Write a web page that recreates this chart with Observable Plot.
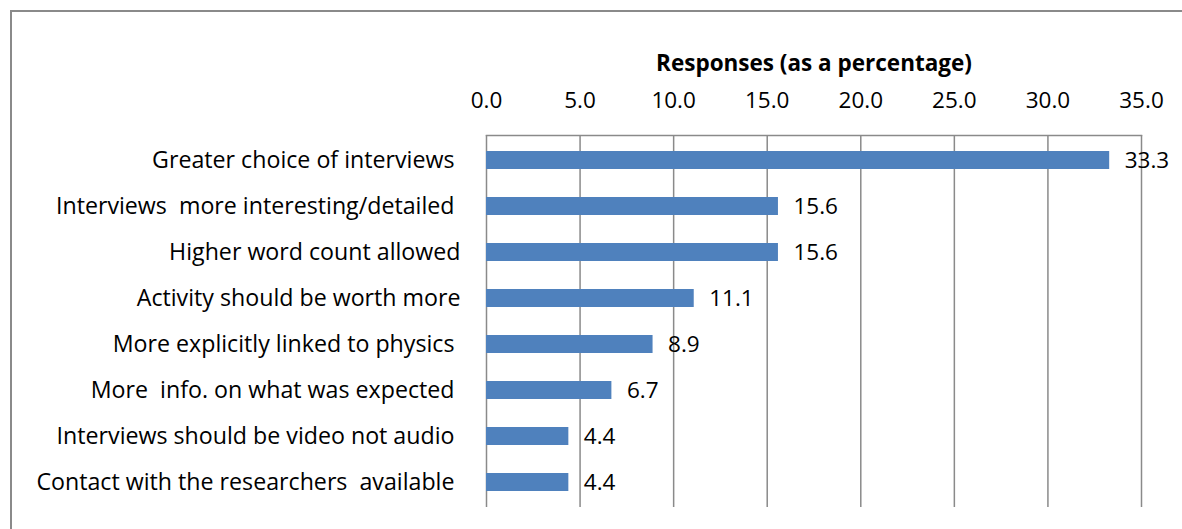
<!DOCTYPE html>
<html>
<head>
<meta charset="utf-8">
<script src="https://cdn.jsdelivr.net/npm/d3@7"></script>
<script src="https://cdn.jsdelivr.net/npm/@observablehq/plot@0.6"></script>
<style>
  body { margin: 0; background: #fff; }
  #wrap { position: relative; width: 1182px; height: 529px; overflow: hidden; }
  #border { position: absolute; left: 10px; top: 10px; width: 1200px; height: 600px; border: 2px solid #8a8a8a; box-sizing: border-box; }
  #chart { position: absolute; left: 0; top: 0; }
  #chart svg text { white-space: pre; }
</style>
</head>
<body>
<div id="wrap">
  <div id="border"></div>
  <div id="chart"></div>
</div>
<script>
const categories = [
  "Greater choice of interviews ",
  "Interviews  more interesting/detailed ",
  "Higher word count allowed",
  "Activity should be worth more",
  "More explicitly linked to physics ",
  "More  info. on what was expected ",
  "Interviews should be video not audio ",
  "Contact with the researchers  available "
];
const values = [33.3, 15.6, 15.6, 11.1, 8.9, 6.7, 4.4, 4.4];
const xTicks = [0, 5, 10, 15, 20, 25, 30, 35];
const axisTitle = "Responses (as a percentage)";

const data = categories.map((c, i) => ({category: c, value: values[i]}));
const font = "'Open Sans', Lato, sans-serif";
const fs = 23.2;

const chart = Plot.plot({
  width: 1182,
  height: 529,
  marginLeft: 486,
  marginRight: 41,
  marginTop: 135,
  marginBottom: 22,
  style: {fontFamily: font, fontSize: fs + "px", color: "#000", background: "transparent"},
  x: {domain: [0, 35], ticks: xTicks},
  y: {domain: categories, padding: 0.61, paddingOuter: 0.305, align: 0.5},
  marks: [
    Plot.gridX(xTicks, {stroke: "#8a8a8a", strokeOpacity: 1, strokeWidth: 1.5}),
    Plot.frame({anchor: "top", stroke: "#8a8a8a", strokeWidth: 1.5}),
    Plot.axisX(xTicks, {anchor: "top", tickSize: 0, tickPadding: 28, tickFormat: d3.format(".1f"),
      label: null, fontSize: 22.5, fill: "#000"}),
    Plot.text([axisTitle], {frameAnchor: "top", dy: -80, fontWeight: "bold", fontSize: 22.5, fill: "#000"}),
    Plot.axisY({tickSize: 0, tickPadding: 26, label: null, fontSize: fs, fill: "#000"}),
    Plot.barX(data, {x: "value", y: "category", fill: "#4f81bd"}),
    Plot.text(data, {x: "value", y: "category", text: d => d.value.toFixed(1), textAnchor: "start", dx: 15, fontSize: 22.5, fill: "#000"})
  ]
});
document.getElementById("chart").append(chart);
</script>
</body>
</html>
